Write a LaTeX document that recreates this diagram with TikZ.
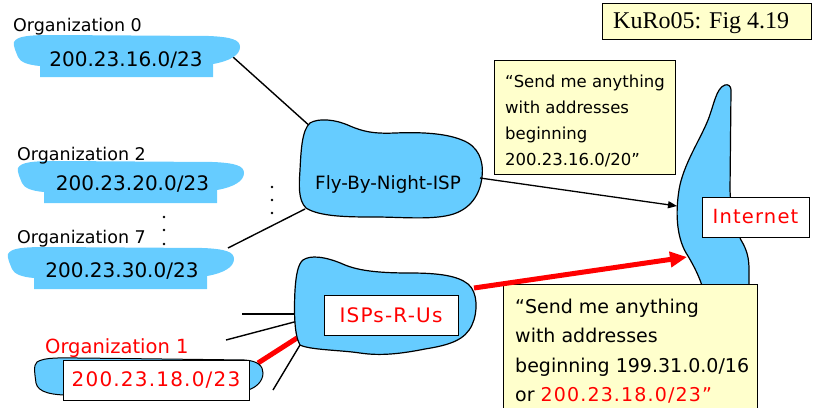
\documentclass[tikz,border=0pt]{standalone}
\usepackage{fontspec}
\setmainfont{DejaVu Sans}
\newfontfamily\kuroserif{Liberation Serif}
\usetikzlibrary{arrows.meta}
\definecolor{cloudblue}{RGB}{102,204,255}
\definecolor{noteyellow}{RGB}{255,255,204}
\definecolor{pured}{RGB}{255,0,0}
\newcommand\redsp{\addfontfeature{LetterSpace=6}}
\tikzset{
  orgblob/.pic={\fill[cloudblue] (0,7) .. controls (3,1) and (15,0) .. (40,0) -- (195,1) .. controls (218,2) and (226,5) .. (226,12) .. controls (226,20) and (216,26) .. (199,29) -- (199,42) -- (26,42) -- (26,31) .. controls (14,30) and (6,27) .. (4,22) .. controls (2,17) and (-1,11) .. (0,7) -- cycle;},
  orglabel/.style={font=\fontsize{17.5}{21}\selectfont, anchor=base west, inner sep=0pt},
  addr/.style={font=\fontsize{20}{24}\selectfont, anchor=base, inner sep=0pt},
  labelbox/.style={draw=black, fill=white, line width=1pt, inner sep=0pt, text=pured, font=\fontsize{20}{24}\selectfont\redsp},
  notebox/.style={fill=noteyellow, draw=black, line width=1pt, inner sep=0pt, anchor=north west},
  notetext/.style={anchor=north west, inner sep=0pt, align=left},
  cloud/.style={fill=cloudblue, draw=black, line width=1.2pt},
  link/.style={draw=black, line width=1.4pt},
  redlink/.style={draw=pured, line width=5pt},
}
\begin{document}
\begin{tikzpicture}[x=1pt,y=-1pt]
\useasboundingbox (0,0) rectangle (818,407);

% connector end points
\coordinate (o0r) at (233,57);
\coordinate (flyA) at (312,128);
\coordinate (o7r) at (228,248);
\coordinate (flyB) at (305,209);
\coordinate (flyC) at (480,178);
\coordinate (inetA) at (677,206);
\coordinate (ispA) at (474,288);
\coordinate (inetB) at (687,257);
\coordinate (o1r) at (258,363);
\coordinate (ispB) at (297,338);
\coordinate (s1) at (242,314);
\coordinate (ispC) at (298,314);
\coordinate (s2) at (226,340);
\coordinate (ispD) at (298,321);
\coordinate (s3) at (273,390);
\coordinate (ispE) at (300,345);

% plain links (drawn under the clouds)
\draw[link] (o0r) -- (flyA);
\draw[link] (o7r) -- (flyB);
\draw[link] (s1) -- (ispC);
\draw[link] (s2) -- (ispD);
\draw[link] (s3) -- (ispE);
\draw[redlink] (o1r) -- (ispB);

% organisation blobs
\pic at (14,35) {orgblob};
\pic at (18,161) {orgblob};
\pic at (8,247) {orgblob};

\node[orglabel] (o0lab) at (13,31) {Organization 0};
\node[addr] (o0) at (126,66) {200.23.16.0/23};
\node[orglabel] (o2lab) at (17,160) {Organization 2};
\node[addr] (o2) at (132.5,190) {200.23.20.0/23};
\node[orglabel] (o7lab) at (17,243) {Organization 7};
\node[addr] (o7) at (122,277) {200.23.30.0/23};

% organisation 1
\draw[cloud, line width=1pt] (37,362) .. controls (45,357) and (60,358) .. (80,358) -- (245,360) .. controls (258,361) and (263,366) .. (263,373) .. controls (263,382) and (255,388) .. (248,390) -- (80,395) .. controls (50,396) and (38,392) .. (36,383) .. controls (35,375) and (33,365) .. (37,362) -- cycle;
\node[labelbox, minimum width=186pt, minimum height=40pt] (o1) at (156,380) {200.23.18.0/23};
\node[orglabel, text=pured, font=\fontsize{19.5}{23}\selectfont] (o1lab) at (45,353) {Organization 1};

% dots
\fill (272,187) circle (1.4);
\fill (272,200) circle (1.4);
\fill (272,213) circle (1.4);
\fill (164,217) circle (1.4);
\fill (164,230) circle (1.4);
\fill (164,244) circle (1.4);

% Fly-By-Night-ISP cloud
\draw[cloud] (310,123) .. controls (318,118) and (335,119) .. (350,126) .. controls (362,131) and (372,134) .. (395,133) .. controls (420,132) and (445,133) .. (462,140) .. controls (478,146) and (484,160) .. (482,177) .. controls (480,195) and (470,210) .. (450,215) .. controls (430,220) and (400,217) .. (375,217) .. controls (350,217) and (320,217) .. (306,208) .. controls (298,200) and (299,185) .. (300,170) .. controls (301,150) and (302,130) .. (310,123) -- cycle;
\node[font=\fontsize{18.3}{22}\selectfont, anchor=base, inner sep=0pt] (fly) at (388,189) {Fly-By-Night-ISP};

% ISPs-R-Us cloud
\draw[cloud] (303,260) .. controls (310,255) and (325,256) .. (345,265) .. controls (360,271) and (380,273) .. (410,273) .. controls (440,273) and (458,276) .. (468,284) .. controls (478,292) and (478,312) .. (472,325) .. controls (465,340) and (450,345) .. (425,349) .. controls (400,354) and (380,356) .. (360,353) .. controls (340,350) and (310,350) .. (300,345) .. controls (294,335) and (294,310) .. (295,290) .. controls (296,275) and (298,264) .. (303,260) -- cycle;
\node[labelbox, minimum width=134pt, minimum height=40pt, text depth=0pt] (isp) at (391,315) {ISPs-R-Us};

% Internet cloud
\draw[cloud] (725,85) .. controls (728,84) and (731,86) .. (731,90) -- (730,190) .. controls (731,215) and (735,228) .. (741,240) .. controls (747,250) and (749,258) .. (749,270) -- (749,292) -- (704,292) .. controls (700,278) and (695,268) .. (688,256) .. controls (677,240) and (675,215) .. (679,190) .. controls (683,165) and (700,140) .. (708,120) .. controls (714,105) and (716,88) .. (725,85) -- cycle;
\node[labelbox, minimum width=107pt, minimum height=40pt, font=\fontsize{19.5}{23}\selectfont\redsp] (inet) at (755.5,217) {Internet};

% title box
\node[notebox, minimum width=209pt, minimum height=36pt] (kurobox) at (602,3) {};
\node[anchor=base west, inner sep=0pt, font=\kuroserif\fontsize{24}{28}\selectfont] (kuro) at (613,28) {KuRo05: Fig 4.19};

% note 1
\node[notebox, minimum width=181pt, minimum height=114pt] (n1) at (494,60) {};
\node[notetext, font=\fontsize{16.5}{26}\selectfont] (n1text) at (505,74.5) {“Send me anything\\with addresses\\beginning\\200.23.16.0/20”};

% note 2 (runs off the bottom edge)
\node[notebox, draw=none, minimum width=253pt, minimum height=123pt] (b2) at (503,284) {};
\draw[line width=1pt] (b2.south west) |- (b2.north east) -- (b2.south east);
\node[notetext, font=\fontsize{19}{29.5}\selectfont] (b2text) at (515,298.5) {“Send me anything\\with addresses\\beginning 199.31.0.0/16\\or {\color{pured}\redsp 200.23.18.0/23”}};

% arrows into the Internet
\draw[link, line width=1.3pt, -{Triangle[length=9pt,width=7pt]}] (flyC) -- (inetA);
\draw[redlink, -{Triangle[length=17pt,width=15pt]}] (ispA) -- (inetB);
\end{tikzpicture}
\end{document}
